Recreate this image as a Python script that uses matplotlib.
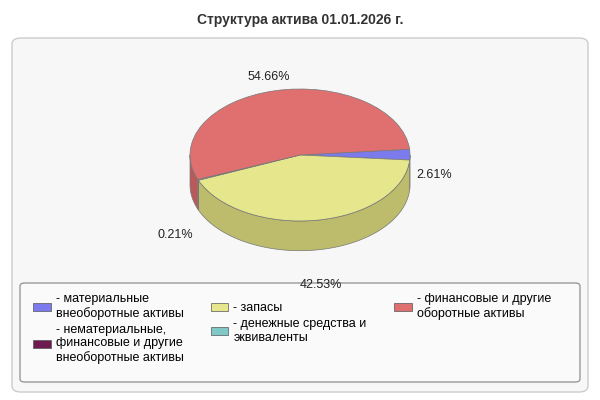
import numpy as np
import matplotlib
matplotlib.use("Agg")
import matplotlib.pyplot as plt
from matplotlib.patches import FancyBboxPatch, Polygon, Patch

plt.rcParams['font.family'] = ['Liberation Sans', 'DejaVu Sans']

categories = ["- материальные\nвнеоборотные активы",
              "- нематериальные,\nфинансовые и другие\nвнеоборотные активы",
              "- запасы",
              "- денежные средства и\nэквиваленты",
              "- финансовые и другие\nоборотные активы"]
values = [2.61, 0.0, 42.53, 0.21, 54.66]
pct_labels = ["2.61%", None, "42.53%", "0.21%", "54.66%"]
colors = ["#7b7bee", "#6e1a50", "#e6e68c", "#80c8c8", "#e07070"]
side_colors = ["#5c5cb8", "#50123a", "#bcbc6c", "#5f9c9c", "#b85a5a"]
title = "Структура актива 01.01.2026 г."

fig = plt.figure(figsize=(6, 4), dpi=100)
fig.patch.set_facecolor("white")
fig.patches.append(FancyBboxPatch((12/600, 8/400), 576/600, 354/400,
                                  boxstyle="round,pad=0,rounding_size=0.015",
                                  transform=fig.transFigure, facecolor="#f7f7f7",
                                  edgecolor="#cccccc", lw=1, zorder=0))
fig.patches.append(FancyBboxPatch((20/600, 18/400), 560/600, 99/400,
                                  boxstyle="round,pad=0,rounding_size=0.008",
                                  transform=fig.transFigure, facecolor="#fafafa",
                                  edgecolor="#999999", lw=1, zorder=0.5))
fig.text(0.5, 1 - 20/400, title, ha="center", va="center", fontsize=10, fontweight="bold", color="#333333")

ax = fig.add_axes([150/600, 120/400, 300/600, 240/400])
ax.set_zorder(3)
ax.set_facecolor("none")
depth = 0.45
nz = [i for i, v in enumerate(values) if v > 0]
wedges, _ = ax.pie([values[i] for i in nz], colors=[colors[i] for i in nz], startangle=5,
                   counterclock=False, radius=1.0,
                   wedgeprops=dict(edgecolor="#777777", linewidth=0.5, zorder=3))
ax.set_aspect("auto")
ax.set_xlim(-150/110, 150/110)
ax.set_ylim(-125/66, 115/66)
ax.axis("off")

for w, i in zip(wedges, nz):
    t1, t2 = w.theta1, w.theta2
    for shift in (-360, 0, 360):
        a, b = max(t1 + shift, 180), min(t2 + shift, 360)
        if b > a:
            th = np.radians(np.linspace(a, b, 60))
            top = np.column_stack([np.cos(th), np.sin(th)])
            bot = np.column_stack([np.cos(th[::-1]), np.sin(th[::-1]) - depth])
            ax.add_patch(Polygon(np.vstack([top, bot]), closed=True, facecolor=side_colors[i],
                                 edgecolor="#777777", lw=0.5, zorder=2))
    mid = np.radians((t1 + t2) / 2)
    x, y = 1.22 * np.cos(mid), 1.22 * np.sin(mid)
    if np.sin(mid) < 0.1:
        y -= 0.31 + (depth if np.sin(mid) < -0.1 else 0)
    ax.text(x, y, pct_labels[i], ha="center", va="center", fontsize=9, color="#222222", zorder=5)

handles = [Patch(facecolor=c, edgecolor="#555555", lw=0.5) for c in colors]
leg = fig.legend(handles, categories, ncol=3, loc="upper left", bbox_to_anchor=(28/600, 1 - 288/400),
                 frameon=False, fontsize=9, handlelength=1.4, handleheight=0.6, handletextpad=0.4,
                 columnspacing=2.2, labelspacing=0.3, borderaxespad=0)
leg.set_zorder(4)

fig.savefig("out.png", dpi=100)
